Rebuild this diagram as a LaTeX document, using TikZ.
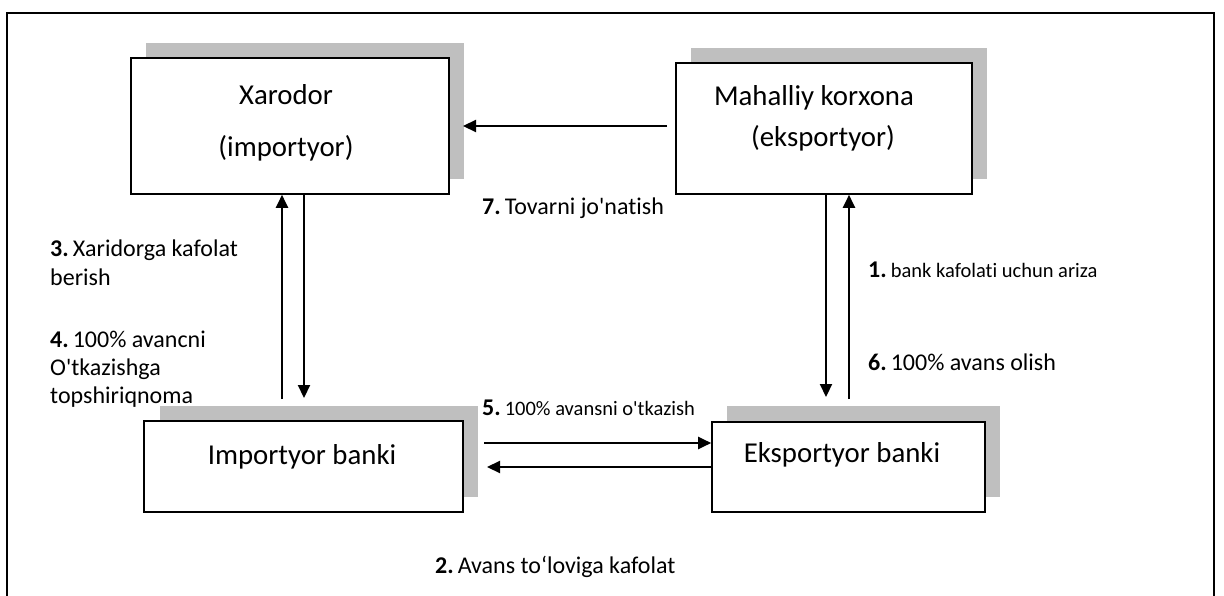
\documentclass[tikz,border=0pt]{standalone}
\usepackage{fontspec}
\setmainfont{Carlito}[Ligatures=NoCommon]
\usetikzlibrary{arrows.meta}
\definecolor{shadowgray}{RGB}{191,191,191}
\newcommand{\apos}{\textquotesingle}
\newcommand{\stepno}[1]{\textbf{#1}\hspace{4pt}\ignorespaces}
\begin{document}
\begin{tikzpicture}[x=1pt,y=-1pt,
  party/.style={draw=black, line width=1.6pt, fill=white, inner sep=0pt},
  shadowbox/.style={fill=shadowgray, draw=none},
  flow/.style={line width=2.2pt, -{Triangle[length=13pt,width=12pt]}},
  boxtext/.style={font=\fontsize{28.8}{34}\selectfont, inner sep=0pt},
  steplabel/.style={font=\fontsize{24}{29}\selectfont, inner sep=0pt, anchor=base west, align=left}
]
\useasboundingbox (0,0) rectangle (1224,596);

% outer frame (open at the bottom)
\draw[line width=1.8pt] (7,610) -- (7,13) -- (1214,13) -- (1214,610);

% drop shadows behind the four parties
\fill[shadowbox] (146,43) rectangle (464,179);
\fill[shadowbox] (691,48) rectangle (987,179);
\fill[shadowbox] (160,406) rectangle (478,497);
\fill[shadowbox] (727,406) rectangle (1000,497);

% parties
\node[party, minimum width=318pt, minimum height=136pt] (xar) at (290,126) {};
\node[party, minimum width=296pt, minimum height=131pt] (mah) at (824,128.5) {};
\node[party, minimum width=319pt, minimum height=91pt] (imp) at (303.5,466.5) {};
\node[party, minimum width=273pt, minimum height=90pt] (exp) at (848.5,467) {};

\node[boxtext] (xart1) at (286,95) {Xarodor};
\node[boxtext] (xart2) at (286,148) {(importyor)};
\node[boxtext] (maht1) at (814,98) {Mahalliy korxona};
\node[boxtext] (maht2) at (823,138) {(eksportyor)};
\node[boxtext] (impt) at (302,457) {Importyor banki};
\node[boxtext] (expt) at (842,455) {Eksportyor banki};

% free ends of the connectors
\coordinate (goodsfrom) at (667,126);
\coordinate (goodsto) at (463,126);
\coordinate (ibup) at (282,399);
\coordinate (ibdown) at (304,398);
\coordinate (ebdown) at (826,397);
\coordinate (ebup) at (849,399);
\coordinate (payto) at (484,443);
\coordinate (backto) at (487,467);

% connectors
\draw[flow] (goodsfrom) -- (goodsto);
\draw[flow] (ibup) -- (ibup |- xar.south);
\draw[flow] (ibdown |- xar.south) -- (ibdown);
\draw[flow] (ebdown |- mah.south) -- (ebdown);
\draw[flow] (ebup) -- (ebup |- mah.south);
\draw[flow] (payto) -- (payto -| exp.west);
\draw[flow] (backto -| exp.west) -- (backto);

% step labels (a multi-line label sits on the baseline of its last line)
\node[steplabel] (l7) at (482,215) {\stepno{7.} Tovarni jo\apos natish};
\node[steplabel] (l3) at (50,286) {\stepno{3.} Xaridorga kafolat\\berish};
\node[steplabel, font=\fontsize{24}{28}\selectfont] (l4) at (50,403) {\stepno{4.} 100\% avancni\\O\apos tkazishga\\topshiriqnoma};
\node[steplabel] (l1) at (868,278) {\stepno{1.} {\fontsize{20.5}{24}\selectfont bank kafolati uchun ariza}};
\node[steplabel] (l6) at (868,370) {\stepno{6.} 100\% avans olish};
\node[steplabel] (l5) at (482,415) {\stepno{5.} {\fontsize{20.5}{24}\selectfont 100\% avansni o\apos tkazish}};
\node[steplabel] (l2) at (435,573) {\stepno{2.} Avans to‘loviga kafolat};
\end{tikzpicture}
\end{document}
